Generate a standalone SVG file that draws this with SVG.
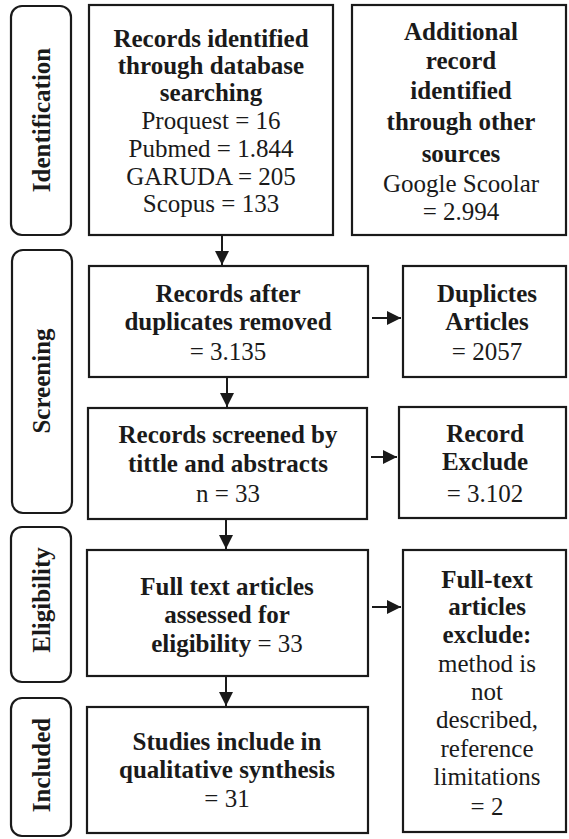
<svg xmlns="http://www.w3.org/2000/svg" width="569" height="839" viewBox="0 0 569 839">
<style>
.box{fill:#fff;stroke:#1a1a1a;stroke-width:2.2}
.side{fill:#fff;stroke:#1a1a1a;stroke-width:2.2}
text{font-family:'Liberation Serif',Tinos,'Times New Roman',Times,'DejaVu Serif',serif;font-size:25px;fill:#1a1a1a;text-anchor:middle}
.b{font-weight:bold}
.line{stroke:#1a1a1a;stroke-width:2;fill:none}
</style>
<defs>
<marker id="ah" viewBox="0 0 10 10" refX="10" refY="5" markerWidth="14" markerHeight="14" markerUnits="userSpaceOnUse" orient="auto">
<path d="M0,0 L10,5 L0,10 z" fill="#1a1a1a"/>
</marker>
</defs>
<rect width="569" height="839" fill="#fff"/>

<g id="stage-identification">
<rect class="side" x="11" y="6" width="60" height="229" rx="11"/>
<text class="b" transform="translate(50,120) rotate(-90)">Identification</text>
</g>
<g id="stage-screening">
<rect class="side" x="12" y="250" width="60" height="263" rx="11"/>
<text class="b" transform="translate(50,381) rotate(-90)">Screening</text>
</g>
<g id="stage-eligibility">
<rect class="side" x="11" y="527" width="60" height="155" rx="11"/>
<text class="b" transform="translate(50,600) rotate(-90)">Eligibility</text>
</g>
<g id="stage-included">
<rect class="side" x="11" y="698" width="60" height="138" rx="11"/>
<text class="b" transform="translate(50,765) rotate(-90)">Included</text>
</g>

<g id="records-identified">
<rect class="box" x="89" y="5" width="244" height="230"/>
<text x="211" y="47" class="b">Records identified</text>
<text x="211" y="74" class="b">through database</text>
<text x="211" y="101" class="b">searching</text>
<text x="211" y="129">Proquest = 16</text>
<text x="211" y="157">Pubmed = 1.844</text>
<text x="211" y="185">GARUDA = 205</text>
<text x="211" y="212">Scopus = 133</text>
</g>

<g id="additional-records">
<rect class="box" x="352" y="5" width="214" height="230"/>
<text x="461" y="40" class="b">Additional</text>
<text x="461" y="69" class="b">record</text>
<text x="461" y="99" class="b">identified</text>
<text x="461" y="130" class="b">through other</text>
<text x="461" y="162" class="b">sources</text>
<text x="461" y="192">Google Scoolar</text>
<text x="461" y="220">= 2.994</text>
</g>

<g id="records-after-duplicates">
<rect class="box" x="89" y="266" width="279" height="111"/>
<text x="228" y="302" class="b">Records after</text>
<text x="228" y="330" class="b">duplicates removed</text>
<text x="228" y="360">= 3.135</text>
</g>

<g id="duplicates-articles">
<rect class="box" x="403" y="266" width="163" height="111"/>
<text x="487" y="302" class="b">Duplictes</text>
<text x="487" y="330" class="b">Articles</text>
<text x="487" y="360">= 2057</text>
</g>

<g id="records-screened">
<rect class="box" x="88" y="408" width="279" height="111"/>
<text x="228" y="443" class="b">Records screened by</text>
<text x="228" y="472" class="b">tittle and abstracts</text>
<text x="228" y="502">n = 33</text>
</g>

<g id="record-exclude">
<rect class="box" x="399" y="407" width="167" height="111"/>
<text x="485" y="442" class="b">Record</text>
<text x="485" y="470" class="b">Exclude</text>
<text x="485" y="502">= 3.102</text>
</g>

<g id="full-text-assessed">
<rect class="box" x="87" y="550" width="281" height="126"/>
<text x="227" y="595" class="b">Full text articles</text>
<text x="227" y="623" class="b">assessed for</text>
<text x="227" y="652"><tspan class="b">eligibility</tspan> = 33</text>
</g>

<g id="full-text-excluded">
<rect class="box" x="403" y="550" width="163" height="282"/>
<text x="487" y="588" class="b">Full-text</text>
<text x="487" y="615" class="b">articles</text>
<text x="487" y="643" class="b">exclude:</text>
<text x="487" y="672">method is</text>
<text x="487" y="700">not</text>
<text x="487" y="728">described,</text>
<text x="487" y="757">reference</text>
<text x="487" y="785">limitations</text>
<text x="487" y="815">= 2</text>
</g>

<g id="studies-included">
<rect class="box" x="87" y="707" width="281" height="126"/>
<text x="227" y="750" class="b">Studies include in</text>
<text x="227" y="778" class="b">qualitative synthesis</text>
<text x="227" y="807">= 31</text>
</g>

<g id="connectors">
<line class="line" x1="222" y1="236" x2="222" y2="265" marker-end="url(#ah)"/>
<line class="line" x1="227" y1="378" x2="227" y2="407" marker-end="url(#ah)"/>
<line class="line" x1="226" y1="520" x2="226" y2="549" marker-end="url(#ah)"/>
<line class="line" x1="226" y1="677" x2="226" y2="706" marker-end="url(#ah)"/>
<line class="line" x1="372" y1="318" x2="401" y2="318" marker-end="url(#ah)"/>
<line class="line" x1="371" y1="457" x2="397" y2="457" marker-end="url(#ah)"/>
<line class="line" x1="372" y1="607" x2="401" y2="607" marker-end="url(#ah)"/>
</g>
</svg>
